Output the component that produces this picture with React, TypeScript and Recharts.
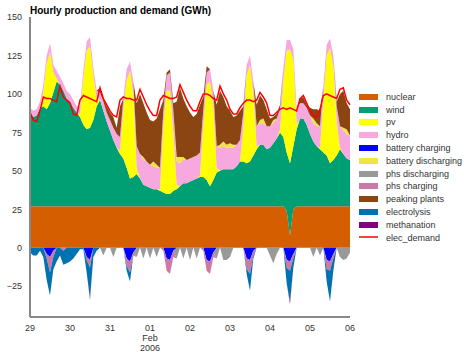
import { ComposedChart, Area, Line, XAxis, YAxis } from "recharts";

const font = '"Liberation Sans", Arial, sans-serif';

// x axis: hours since 29 Jan 2006 00:00, one point every 2 hours
const dayTicks = [0, 24, 48, 72, 96, 120, 144, 168, 192];
const dayLabels = ["29", "30", "31", "01", "02", "03", "04", "05", "06"];
const yTicks = [-25, 0, 25, 50, 75, 100, 125, 150];

// one row per day (12 points), last value = 06 00:00
const nuclear = [
  27, 27, 27, 27, 27, 27, 27, 27, 27, 27, 27, 27,
  27, 27, 27, 27, 27, 27, 27, 27, 27, 27, 27, 27,
  27, 27, 27, 27, 27, 27, 27, 27, 27, 27, 27, 27,
  27, 27, 27, 27, 27, 27, 27, 27, 27, 27, 27, 27,
  27, 27, 27, 27, 27, 27, 27, 27, 27, 27, 27, 27,
  27, 27, 27, 27, 27, 27, 27, 27, 27, 27, 27, 27,
  27, 27, 27, 27, 27, 24, 8, 25, 27, 27, 27, 27,
  27, 27, 27, 27, 27, 27, 27, 27, 27, 27, 27, 27,
  27,
];
const wind = [
  60, 58, 59, 64, 65, 63, 67, 74, 81, 79, 75, 70,
  68, 64, 61, 58, 53, 50, 51, 56, 65, 69, 62, 55,
  49, 43, 38, 34, 31, 25, 18, 19, 21, 18, 14, 13,
  12, 11, 11, 10, 9, 8, 8, 10, 11, 13, 15, 15,
  16, 17, 18, 19, 19, 17, 13, 17, 22, 23, 24, 24,
  24, 24, 26, 29, 29, 28, 29, 33, 37, 40, 40, 37,
  38, 41, 44, 48, 45, 38, 47, 41, 50, 57, 57, 53,
  47, 42, 39, 37, 35, 33, 28, 30, 33, 37, 34, 31,
  30,
];
const pv = [
  0, 0, 0, 0, 9, 30, 33, 13, 2, 0, 0, 0,
  0, 0, 0, 2, 30, 51, 53, 29, 5, 0, 0, 0,
  0, 0, 0, 2, 31, 57, 70, 54, 4, 0, 0, 0,
  0, 0, 0, 1, 43, 67, 67, 38, 3, 0, 0, 0,
  0, 0, 0, 1, 34, 62, 68, 48, 3, 0, 0, 0,
  0, 0, 0, 0, 22, 57, 63, 40, 2, 0, 0, 0,
  0, 0, 0, 2, 36, 66, 74, 56, 3, 0, 0, 0,
  0, 0, 0, 1, 33, 65, 75, 61, 22, 1, 0, 0,
  0,
];
const hydro = [
  4, 4, 4, 4, 5, 5, 6, 5, 5, 5, 5, 5,
  5, 5, 4, 5, 5, 6, 6, 5, 5, 5, 6, 6,
  7, 8, 9, 9, 8, 7, 6, 8, 14, 16, 16, 16,
  15, 15, 14, 14, 10, 10, 12, 14, 15, 15, 15, 15,
  15, 15, 15, 15, 10, 8, 8, 10, 14, 15, 15, 14,
  14, 14, 14, 14, 10, 7, 6, 8, 13, 14, 14, 15,
  14, 13, 13, 13, 9, 7, 6, 7, 10, 10, 10, 11,
  12, 12, 13, 14, 10, 7, 6, 7, 10, 14, 15, 16,
  16,
];
const batteryCharging = [
  0, 0, 0, 0, 0, -4, -6, -2, 0, 0, 0, 0,
  0, 0, 0, 0, 0, -6, -8, 0, 0, 0, 0, 0,
  0, 0, 0, 0, 0, -7, -9, -3, 0, 0, 0, 0,
  0, 0, 0, 0, 0, -7, -8, -2, 0, 0, 0, 0,
  0, 0, 0, 0, 0, -8, -9, -3, 0, 0, 0, 0,
  0, 0, 0, 0, 0, -7, -8, -2, 0, 0, 0, 0,
  0, 0, 0, 0, 0, -8, -9, -4, 0, 0, 0, 0,
  0, 0, 0, 0, 0, -8, -9, -4, 0, 0, 0, 0,
  0,
];
const batteryDischarging = [
  0, 0, 0, 0, 0, 0, 0, 0, 0, 0, 0, 0,
  0, 0, 0, 0, 0, 0, 0, 0, 0, 0, 0, 0,
  0, 0, 0, 0, 0, 0, 0, 0, 0, 0, 2, 0,
  0, 3, 2, 0, 0, 0, 0, 0, 3, 4, 2, 0,
  0, 0, 0, 0, 0, 0, 0, 0, 0, 2, 3, 2,
  3, 2, 0, 0, 0, 0, 0, 0, 0, 2, 3, 0,
  0, 2, 0, 0, 0, 0, 0, 0, 0, 0, 0, 0,
  0, 3, 2, 0, 0, 0, 0, 0, 0, 0, 2, 3,
  0,
];
const phsDischarging = [
  0, 0, 0, 0, 0, 0, 0, 0, 0, 0, 0, 0,
  0, 0, 0, 0, 0, 0, 0, 0, 0, 0, -5, 0,
  0, -6, 0, 0, 0, 0, 0, 0, -6, 0, -7, 0,
  -7, 0, -6, 0, 0, 0, 0, 0, -7, 0, -7, 0,
  -8, 0, -7, 0, 0, 0, 0, 0, -7, 0, -8, -8,
  -6, 0, 0, 0, 0, 0, 0, 0, 0, 0, 0, 0,
  -5, -10, -4, 0, 0, 0, 0, 0, 0, 0, 0, 0,
  0, -6, 0, -5, 0, 0, 0, 0, 0, -6, -8, -7,
  -3,
];
const phsCharging = [
  0, 0, 0, 0, 0, -3, -10, -4, 0, 0, -2, 0,
  0, 0, 0, 0, 0, -2, -5, 0, 0, 0, 0, 0,
  0, 0, 0, 0, 0, -5, -7, -2, 0, 0, 0, 0,
  0, 0, 0, 0, -2, -8, -9, -4, 0, 0, 0, 0,
  0, 0, 0, 0, -2, -7, -8, -3, 0, 0, 0, 0,
  0, 0, 0, 0, 0, -7, -9, -3, 0, 0, 0, 0,
  0, 0, 0, 0, 0, -5, -6, -3, 0, 0, 0, 0,
  0, 0, 0, 0, 0, -6, -6, -3, 0, 0, 0, 0,
  0,
];
const peakingPlants = [
  0, 0, 0, 0, 0, 0, 0, 0, 0, 0, 0, 0,
  0, 0, 0, 0, 0, 0, 0, 0, 0, 3, 2, 4,
  5, 7, 4, 20, 0, 0, 0, 0, 28, 39, 35, 32,
  29, 26, 30, 38, 7, 2, 2, 5, 36, 45, 38, 35,
  30, 26, 27, 31, 8, 4, 0, 0, 27, 35, 29, 25,
  21, 18, 19, 19, 4, 0, 0, 0, 14, 16, 12, 11,
  5, 2, 3, 3, 0, 0, 0, 0, 0, 3, 4, 2,
  5, 6, 9, 10, 0, 0, 0, 0, 3, 21, 24, 17,
  17,
];
const electrolysis = [
  -3, -5, -5, -2, -6, -14, -15, -8, -9, -5, -9, -10,
  -9, -7, -4, -1, -1, -8, -20, -6, -2, 0, 0, 0,
  0, 0, 0, 0, 0, -3, -6, 0, 0, 0, 0, 0,
  0, 0, 0, 0, 0, 0, 0, 0, 0, 0, 0, 0,
  0, 0, 0, 0, 0, 0, 0, 0, 0, 0, 0, 0,
  0, 0, 0, 0, 0, -3, -11, -2, 0, 0, 0, 0,
  0, 0, 0, 0, 0, -10, -20, -6, 0, 0, 0, 0,
  0, 0, 0, 0, 0, -8, -20, -8, 0, 0, 0, 0,
  0,
];
const methanation = [
  0, 0, 0, 0, 0, 0, 0, 0, 0, 0, 0, 0,
  0, 0, 0, 0, 0, 0, -1, 0, 0, 0, 0, 0,
  0, 0, 0, 0, 0, 0, 0, 0, 0, 0, 0, 0,
  0, 0, 0, 0, 0, 0, 0, 0, 0, 0, 0, 0,
  0, 0, 0, 0, 0, 0, 0, 0, 0, 0, 0, 0,
  0, 0, 0, 0, 0, 0, 0, 0, 0, 0, 0, 0,
  0, 0, 0, 0, 0, 0, -1.5, 0, 0, 0, 0, 0,
  0, 0, 0, 0, 0, 0, 0, 0, 0, 0, 0, 0,
  0,
];
const elecDemand = [
  88, 83, 82, 89, 98, 97, 97, 96, 95, 105, 98, 96,
  94, 87, 86, 96, 99, 98, 97, 96, 95, 104, 97, 93,
  89, 86, 85, 96, 98, 97, 97, 96, 96, 103, 98, 93,
  89, 86, 86, 96, 99, 98, 97, 97, 98, 106, 101, 96,
  92, 89, 89, 95, 100, 100, 99, 97, 96, 105, 100, 96,
  90, 87, 87, 91, 94, 96, 96, 95, 96, 101, 98, 94,
  86, 86, 88, 90, 91, 90, 91, 90, 89, 97, 99, 94,
  89, 86, 85, 90, 99, 100, 99, 98, 97, 103, 104, 96,
  93,
];

// legend order; producers stack up from 0, consumers stack down from 0
const series = [
  { key: "nuclear", color: "#D55E00", values: nuclear, stack: "up" },
  { key: "wind", color: "#009E73", values: wind, stack: "up" },
  { key: "pv", color: "#FFFF00", values: pv, stack: "up" },
  { key: "hydro", color: "#F7A8DE", values: hydro, stack: "up" },
  { key: "battery charging", color: "#0000FF", values: batteryCharging, stack: "down" },
  { key: "battery discharging", color: "#F0E442", values: batteryDischarging, stack: "up" },
  { key: "phs discharging", color: "#999999", values: phsDischarging, stack: "down" },
  { key: "phs charging", color: "#CC79A7", values: phsCharging, stack: "down" },
  { key: "peaking plants", color: "#8B4513", values: peakingPlants, stack: "up" },
  { key: "electrolysis", color: "#0072B2", values: electrolysis, stack: "down" },
  { key: "methanation", color: "#800080", values: methanation, stack: "down" },
];

const data = nuclear.map((_, i) => {
  const row: Record<string, number> = { hour: i * 2, elec_demand: elecDemand[i] };
  series.forEach((s) => (row[s.key] = s.values[i]));
  return row;
});

const DayTick = ({ x, y, payload }: any) => {
  const label = dayLabels[dayTicks.indexOf(payload.value)];
  const style = { fontSize: 9, fill: "#333", fontFamily: font };
  return (
    <g>
      <text x={x} y={y} dy="0.71em" textAnchor="middle" {...style}>{label}</text>
      {payload.value === 72 && (
        <>
          <text x={x} y={y + 10} dy="0.71em" textAnchor="middle" {...style}>Feb</text>
          <text x={x} y={y + 20} dy="0.71em" textAnchor="middle" {...style}>2006</text>
        </>
      )}
    </g>
  );
};

const legendTop = 96.7;
const legendStep = 12.8;

export default function App() {
  return (
    <div style={{ position: "absolute", left: 0, top: 0, width: 464, height: 352, background: "#fff", fontFamily: font }}>
      <div style={{ position: "absolute", left: 30, top: 5, fontSize: 10, lineHeight: "12px", fontWeight: "bold", color: "#000", whiteSpace: "nowrap" }}>
        Hourly production and demand (GWh)
      </div>
      <ComposedChart width={464} height={352} data={data} margin={{ top: 17, right: 114, bottom: 0, left: 0 }}>
        <XAxis
          dataKey="hour"
          type="number"
          domain={[0, 192]}
          ticks={dayTicks}
          interval={0}
          tickLine={false}
          tickMargin={2}
          height={35}
          axisLine={{ stroke: "#888", strokeWidth: 2 }}
          tick={<DayTick />}
        />
        <YAxis
          type="number"
          domain={[-45, 150]}
          ticks={yTicks}
          interval={0}
          width={30}
          tickLine={false}
          axisLine={{ stroke: "#888", strokeWidth: 2 }}
          tick={{ fontSize: 9, fill: "#333", fontFamily: font }}
          tickFormatter={(v: number) => String(v).replace("-", "\u2212")}
        />
        {series.map((s) => (
          <Area
            key={s.key}
            type="linear"
            dataKey={s.key}
            stackId={s.stack}
            stroke="none"
            fill={s.color}
            fillOpacity={1}
            dot={false}
            activeDot={false}
            isAnimationActive={false}
          />
        ))}
        <Line
          type="linear"
          dataKey="elec_demand"
          stroke="#FF0000"
          strokeWidth={1.5}
          dot={false}
          isAnimationActive={false}
        />
      </ComposedChart>
      {series.map((s, k) => (
        <div key={s.key}>
          <div style={{ position: "absolute", left: 359, top: legendTop + k * legendStep - 3, width: 19, height: 6, background: s.color }} />
          <div style={{ position: "absolute", left: 386, top: legendTop + k * legendStep - 6, fontSize: 9, lineHeight: "12px", color: "#333", whiteSpace: "nowrap" }}>
            {s.key}
          </div>
        </div>
      ))}
      <div style={{ position: "absolute", left: 359, top: 236, width: 19, height: 2, background: "#FF4040" }} />
      <div style={{ position: "absolute", left: 386, top: legendTop + 11 * legendStep - 6, fontSize: 9, lineHeight: "12px", color: "#333" }}>
        elec_demand
      </div>
    </div>
  );
}
